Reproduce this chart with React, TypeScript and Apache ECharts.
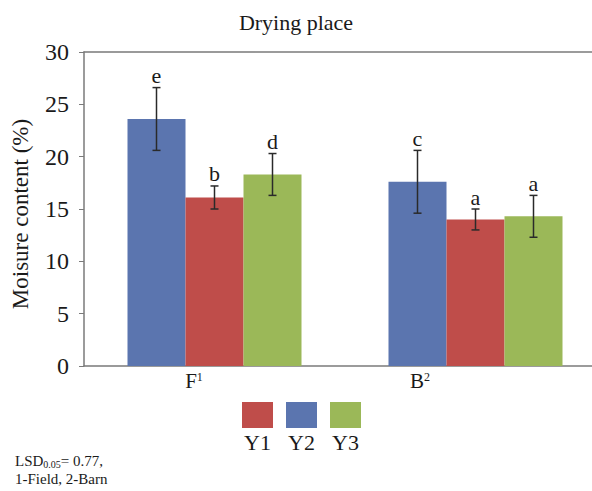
import React, { useEffect, useRef } from "react";
import * as echarts from "echarts";

const categories = ["F", "B"];
const categorySup = ["1", "2"];
const seriesNames = ["Y2", "Y1", "Y3"];
const seriesColors = ["#5B75AF", "#BF4D4A", "#9BB858"];
const meanY2 = [23.6, 17.6];
const meanY1 = [16.1, 14.0];
const meanY3 = [18.3, 14.3];
const errY2 = [3.0, 3.0];
const errY1 = [1.1, 1.0];
const errY3 = [2.0, 2.0];
const lettersY2 = ["e", "c"];
const lettersY1 = ["b", "a"];
const lettersY3 = ["d", "a"];
const legendNames = ["Y1", "Y2", "Y3"];
const legendColors = ["#BF4D4A", "#5B75AF", "#9BB858"];
const yTicks = { min: 0, max: 30, interval: 5 };
const titleText = "Drying place";
const yAxisName = "Moisure content (%)";

const FONT = "Liberation Serif";
const BAR_W = 58;

export default function App() {
  const ref = useRef<HTMLDivElement>(null);
  useEffect(() => {
    if (!ref.current) return;
    const chart = echarts.init(ref.current, null, { renderer: "svg" });
    const means = [meanY2, meanY1, meanY3];
    const errs = [errY2, errY1, errY3];
    const letters = [lettersY2, lettersY1, lettersY3];
    const offsets = [-BAR_W, 0, BAR_W];

    const barSeries = means.map((m, i) => ({
      name: seriesNames[i],
      type: "bar",
      data: m,
      barWidth: BAR_W,
      barGap: "0%",
      itemStyle: { color: seriesColors[i] },
    }));

    const errSeries = means.map((m, i) => ({
      name: seriesNames[i] + "-err",
      type: "custom",
      data: m.map((v, j) => [j, v, errs[i][j]]),
      z: 10,
      renderItem: (params: any, api: any) => {
        const x = api.value(0);
        const v = api.value(1);
        const e = api.value(2);
        const c = api.coord([x, v]);
        const top = api.coord([x, v + e]);
        const bot = api.coord([x, v - e]);
        const cx = c[0] + offsets[i];
        const cap = 4;
        const st = { stroke: "#2a2a2a", lineWidth: 1.5 };
        return {
          type: "group",
          children: [
            { type: "line", shape: { x1: cx, y1: top[1], x2: cx, y2: bot[1] }, style: st },
            { type: "line", shape: { x1: cx - cap, y1: top[1], x2: cx + cap, y2: top[1] }, style: st },
            { type: "line", shape: { x1: cx - cap, y1: bot[1], x2: cx + cap, y2: bot[1] }, style: st },
            {
              type: "text",
              style: {
                text: letters[i][params.dataIndex],
                x: cx,
                y: top[1] - 1,
                align: "center",
                verticalAlign: "bottom",
                fontFamily: FONT,
                fontSize: 22,
                fill: "#1a1a1a",
              },
            },
          ],
        };
      },
    }));

    const legendX = [242, 286, 330];
    const legendGraphics: any[] = [];
    legendNames.forEach((n, i) => {
      legendGraphics.push({
        type: "rect",
        shape: { x: legendX[i], y: 402, width: 31, height: 26 },
        style: { fill: legendColors[i] },
      });
      legendGraphics.push({
        type: "text",
        style: {
          text: n,
          x: legendX[i] + 15.5,
          y: 442,
          align: "center",
          verticalAlign: "middle",
          fontFamily: FONT,
          fontSize: 22,
          fill: "#1a1a1a",
        },
      });
    });

    const catLabelX = [194, 420];
    const catGraphics = categories.map((c, i) => ({
      type: "text",
      style: {
        text: `{m|${c}}{s|${categorySup[i]}}`,
        x: catLabelX[i],
        y: 381,
        align: "center",
        verticalAlign: "middle",
        rich: {
          m: { fontFamily: FONT, fontSize: 21, fill: "#1a1a1a", color: "#1a1a1a" },
          s: { fontFamily: FONT, fontSize: 12, fill: "#1a1a1a", color: "#1a1a1a", verticalAlign: "top", padding: [0, 0, 8, 0] },
        },
      },
    }));

    chart.setOption({
      animation: false,
      textStyle: { fontFamily: FONT },
      grid: { left: 84, top: 52, bottom: 125, right: -14, containLabel: false, outerBoundsMode: "none" },
      xAxis: [
        {
          type: "category",
          data: categories,
          axisLine: { lineStyle: { color: "#7a7a7a", width: 1.5 } },
          axisTick: { show: false },
          axisLabel: { show: false },
        },
        {
          type: "category",
          position: "top",
          data: categories,
          axisLine: { lineStyle: { color: "#7a7a7a", width: 1.5 } },
          axisTick: { show: false },
          axisLabel: { show: false },
        },
      ],
      yAxis: {
        type: "value",
        min: yTicks.min,
        max: yTicks.max,
        interval: yTicks.interval,
        axisLine: { show: true, lineStyle: { color: "#7a7a7a", width: 1.5 } },
        axisTick: { show: true, length: 5, lineStyle: { color: "#7a7a7a" } },
        axisLabel: { fontFamily: FONT, fontSize: 24, color: "#1a1a1a", margin: 15 },
        splitLine: { show: false },
      },
      series: [...barSeries, ...errSeries],
      graphic: [
        ...legendGraphics,
        ...catGraphics,
        {
          type: "text",
          style: {
            text: titleText,
            x: 296,
            y: 22,
            align: "center",
            verticalAlign: "middle",
            fontFamily: FONT,
            fontSize: 22,
            fill: "#1a1a1a",
          },
        },
        {
          type: "text",
          rotation: Math.PI / 2,
          x: 20,
          y: 214,
          style: {
            text: yAxisName,
            x: 0,
            y: 0,
            align: "center",
            verticalAlign: "middle",
            fontFamily: FONT,
            fontSize: 23,
            fill: "#1a1a1a",
          },
        },
        {
          type: "text",
          style: {
            text: "{n|LSD}{sub|0.05}{n|= 0.77,}\n{n|1-Field, 2-Barn}",
            x: 15,
            y: 452,
            rich: {
              n: { fontFamily: FONT, fontSize: 15, fill: "#1a1a1a", color: "#1a1a1a", lineHeight: 18 },
              sub: { fontFamily: FONT, fontSize: 10, fill: "#1a1a1a", color: "#1a1a1a", padding: [6, 0, 0, 0], lineHeight: 18 },
            },
          },
        },
      ],
    });
    return () => chart.dispose();
  }, []);
  return (
    <div
      ref={ref}
      style={{ position: "absolute", left: 0, top: 0, width: 592, height: 491, background: "#fff" }}
    />
  );
}
